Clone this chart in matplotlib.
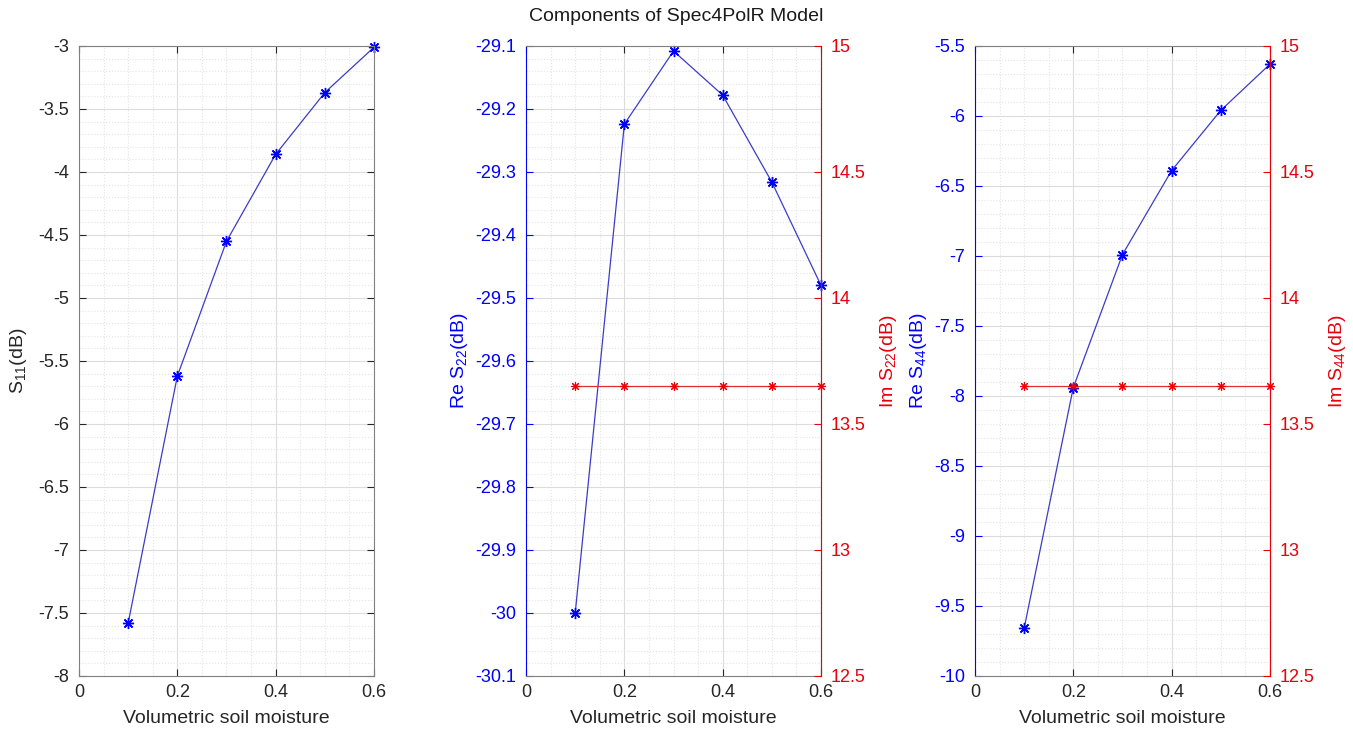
import numpy as np
import matplotlib
matplotlib.use('Agg')
import matplotlib.pyplot as plt
from matplotlib.ticker import MultipleLocator

plt.rcParams['font.family'] = ['Liberation Sans', 'DejaVu Sans']
plt.rcParams['mathtext.fontset'] = 'custom'
plt.rcParams['mathtext.rm'] = 'Liberation Sans'
plt.rcParams['mathtext.it'] = 'Liberation Sans'
plt.rcParams['axes.unicode_minus'] = False

mv = [0.1, 0.2, 0.3, 0.4, 0.5, 0.6]
s11 = [-7.58, -5.62, -4.55, -3.86, -3.37, -3.01]
re_s22 = [-30.00, -29.224, -29.108, -29.178, -29.316, -29.48]
im_s22 = [13.652, 13.652, 13.652, 13.652, 13.652, 13.652]
re_s44 = [-9.66, -7.94, -6.99, -6.39, -5.96, -5.63]
im_s44 = [13.652, 13.652, 13.652, 13.652, 13.652, 13.652]

BLUE = '#0000ff'
RED = '#e8000b'
LINE_BLUE = '#3c3cc8'
LINE_RED = '#e03030'
AX_GRAY = '#262626'
STAR = (8, 2, 0)  # asterisk: plus and cross combined

fig = plt.figure(figsize=(13.53, 7.3), dpi=100)


def fmt(v):
    return '%g' % round(v, 2)


def base_axes(rect, ylim, ymaj, ymin):
    ax = fig.add_axes(rect)
    ax.set_xlim(0, 0.6)
    ax.set_ylim(*ylim)
    ax.xaxis.set_major_locator(MultipleLocator(0.2))
    ax.xaxis.set_minor_locator(MultipleLocator(0.05))
    ax.yaxis.set_major_locator(MultipleLocator(ymaj))
    ax.yaxis.set_minor_locator(MultipleLocator(ymin))
    ax.grid(True, which='major', color='#dcdcdc', linewidth=0.8)
    ax.grid(True, which='minor', color='#e4e4e4', linestyle=':', linewidth=0.8)
    ax.set_axisbelow(True)
    ax.tick_params(which='both', direction='in', labelsize=13, color=AX_GRAY,
                   labelcolor=AX_GRAY, top=True)
    ax.tick_params(which='minor', length=0)
    ax.tick_params(which='major', length=5)
    ax.tick_params(axis='y', pad=7)
    ax.tick_params(axis='x', pad=6)
    ax.set_xticks([0, 0.2, 0.4, 0.6])
    ax.set_xticklabels(['0', '0.2', '0.4', '0.6'])
    ax.yaxis.set_major_formatter(plt.FuncFormatter(lambda v, p: fmt(v)))
    ax.set_xlabel('Volumetric soil moisture', fontsize=14, color=AX_GRAY,
                  labelpad=6)
    for s in ax.spines.values():
        s.set_color('#808080')
        s.set_linewidth(0.8)
    return ax


# S11
ax1 = base_axes([0.0584, 0.074, 0.218, 0.863], (-8, -3), 0.5, 0.1)
ax1.tick_params(axis='y', right=True)
ax1.plot(mv, s11, color=LINE_BLUE, linewidth=0.9, marker=STAR, markersize=8,
         markeredgecolor=BLUE, markerfacecolor=BLUE, markeredgewidth=1.0,
         clip_on=False)
ax1.set_ylabel('S$_{11}$(dB)', fontsize=14, color=AX_GRAY, labelpad=7)


def twin_panel(rect, ylim, ymaj, ymin, re_vals, im_vals, sub):
    ax = base_axes(rect, ylim, ymaj, ymin)
    ax.tick_params(axis='y', colors=BLUE, labelcolor=BLUE)
    ax.spines['left'].set_color(BLUE)
    ax.plot(mv, re_vals, color=LINE_BLUE, linewidth=0.9, marker=STAR,
            markersize=8, markeredgecolor=BLUE, markerfacecolor=BLUE,
            markeredgewidth=1.0, clip_on=False)
    ax.set_ylabel('Re S$_{%s}$(dB)' % sub, fontsize=14, color=BLUE, labelpad=4)

    axr = ax.twinx()
    axr.set_ylim(12.5, 15)
    axr.yaxis.set_major_locator(MultipleLocator(0.5))
    axr.tick_params(axis='y', direction='in', colors=RED, labelcolor=RED,
                    labelsize=13, length=5, pad=7)
    axr.yaxis.set_major_formatter(plt.FuncFormatter(lambda v, p: fmt(v)))
    for s in axr.spines.values():
        s.set_visible(False)
    axr.spines['right'].set_visible(True)
    axr.spines['right'].set_color(RED)
    axr.spines['right'].set_linewidth(0.8)
    axr.plot(mv, im_vals, color=LINE_RED, linewidth=0.9, marker=STAR,
             markersize=6.5, markeredgecolor=RED, markerfacecolor=RED,
             markeredgewidth=0.8, clip_on=False)
    axr.set_ylabel('Im S$_{%s}$(dB)' % sub, fontsize=14, color=RED, labelpad=9)
    return ax, axr


ax2, ax2r = twin_panel([0.3888, 0.074, 0.218, 0.863], (-30.1, -29.1), 0.1, 0.02,
                       re_s22, im_s22, '22')
ax3, ax3r = twin_panel([0.7206, 0.074, 0.218, 0.863], (-10, -5.5), 0.5, 0.1,
                       re_s44, im_s44, '44')

fig.text(0.5, 0.978, 'Components of Spec4PolR Model', ha='center', va='center',
         fontsize=14, color='#1a1a1a')

fig.savefig('out.png', dpi=100)
